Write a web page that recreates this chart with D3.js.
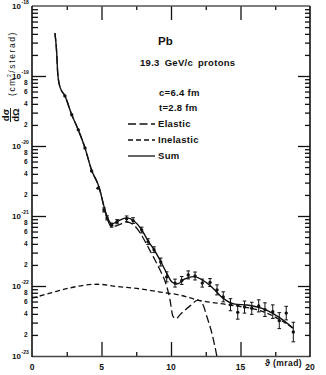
<!DOCTYPE html>
<html>
<head>
<meta charset="utf-8">
<script src="https://cdn.jsdelivr.net/npm/d3@7"></script>
<style>
body { margin: 0; background: #fff; }
svg text { font-family: 'Liberation Sans', 'DejaVu Sans', sans-serif; fill: #111; }
</style>
</head>
<body>
<svg id="chart" width="326" height="375"></svg>
<script>
// Pb, 19.3 GeV/c protons - differential cross section vs angle
var sumTheta = [1.65, 1.78, 1.85, 2.01, 2.37, 2.86, 3.33, 3.81, 4.29, 4.82, 5.25, 5.47, 5.76, 6.19, 6.83, 7.34, 7.91, 8.35, 8.78, 9.28, 9.71, 10.07, 10.43, 11.0, 11.65, 12.45, 13.02, 13.74, 14.6, 15.47, 16.91, 17.84, 18.78];
var sumSigma = [4.1e-19, 2.1e-19, 1.1e-19, 7.0e-20, 5.2e-20, 2.8e-20, 1.7e-20, 9.4e-21, 4.5e-21, 2.6e-21, 1.22e-21, 9.1e-22, 7.7e-22, 8.5e-22, 9.4e-22, 8.5e-22, 6.3e-22, 4.4e-22, 3.3e-22, 2.2e-22, 1.5e-22, 1.14e-22, 1.07e-22, 1.26e-22, 1.36e-22, 1.15e-22, 9.3e-23, 6.7e-23, 5.5e-23, 5.35e-23, 4.5e-23, 3.5e-23, 2.5e-23];

var elasticTheta = [1.65, 1.78, 1.85, 2.01, 2.37, 2.86, 3.33, 3.81, 4.29, 4.82, 5.25, 5.47, 5.76, 6.19, 6.83, 7.34, 7.91, 8.35, 8.78, 9.28, 9.64, 9.93, 10.14, 10.36, 10.65, 11.37, 11.94, 12.3, 12.59, 12.88, 13.09, 13.31];
var elasticSigma = [4.1e-19, 2.1e-19, 1.1e-19, 7.0e-20, 5.2e-20, 2.8e-20, 1.7e-20, 9.4e-21, 4.5e-21, 2.6e-21, 1.18e-21, 8.5e-22, 7.0e-22, 7.4e-22, 8.2e-22, 7.4e-22, 5.2e-22, 3.6e-22, 2.5e-22, 1.58e-22, 1.07e-22, 6.3e-23, 3.7e-23, 3.4e-23, 3.9e-23, 5.2e-23, 6.3e-23, 5.4e-23, 3.6e-23, 2.35e-23, 1.58e-23, 9.7e-24];

var inelasticTheta = [0, 1.29, 2.73, 4.68, 6.19, 7.77, 9.21, 10.65, 11.94, 14.24, 16.62, 17.84, 18.78];
var inelasticSigma = [6.7e-23, 7.9e-23, 9.4e-23, 1.06e-22, 9.8e-23, 9.1e-23, 8.2e-23, 7.4e-23, 6.3e-23, 5.35e-23, 4.3e-23, 3.3e-23, 2.5e-23];

// measured points, err = relative error
var dataTheta = [2.37, 2.86, 3.33, 3.81, 4.29, 4.75, 5.18, 5.40, 5.73, 6.12, 6.81, 7.27, 7.89, 8.35, 8.78, 9.26, 9.69, 10.29, 10.77, 11.24, 11.73, 12.25, 12.81, 13.31, 13.76, 14.28, 14.8, 15.29, 15.81, 16.31, 16.76, 17.32, 17.79, 18.29, 18.8];
var dataSigma = [5.2e-20, 2.8e-20, 1.7e-20, 9.4e-21, 4.4e-21, 2.5e-21, 1.22e-21, 9.4e-22, 7.4e-22, 8.3e-22, 9.1e-22, 8.6e-22, 6.3e-22, 4.3e-22, 3.3e-22, 2.2e-22, 1.35e-22, 1.1e-22, 1.2e-22, 1.44e-22, 1.39e-22, 1.1e-22, 1.12e-22, 8.8e-23, 7.0e-23, 5.4e-23, 4.2e-23, 5.0e-23, 4.8e-23, 5.2e-23, 4.6e-23, 4.3e-23, 3.2e-23, 4.1e-23, 2.2e-23];
var dataErr = [0, 0, 0, 0, 0, 0, 0.07, 0.07, 0.07, 0.07, 0.1, 0.1, 0.1, 0.1, 0.1, 0.14, 0.18, 0.14, 0.14, 0.14, 0.14, 0.14, 0.14, 0.18, 0.18, 0.22, 0.25, 0.22, 0.22, 0.22, 0.25, 0.25, 0.3, 0.25, 0.38];

var decades = [1e-18, 1e-19, 1e-20, 1e-21, 1e-22, 1e-23];
var decadeExp = ['-18', '-19', '-20', '-21', '-22', '-23'];
var minorMult = [2, 3, 4, 5, 6, 7, 8, 9];
var minorLabels = [2, 4, 6, 8];
var xMajor = [5, 10, 15];
var xMinor = [2.5, 7.5, 12.5, 17.5];
var xLabels = [0, 5, 10, 15, 20];

var svg = d3.select('#chart');
svg.append('rect').attr('width', 326).attr('height', 375).attr('fill', '#fff');

var x = d3.scaleLinear().domain([0, 20]).range([32, 310]);
var y = d3.scaleLog().domain([1e-23, 1e-18]).range([356, 6]);

var minors = [];
decades.slice(0, 5).forEach(function (d) {
	minorMult.forEach(function (m) { minors.push(d / 10 * m); });
});

// axes, ticks inside the frame
function noDomain(g) { g.select('.domain').remove(); g.selectAll('text').remove(); g.selectAll('line').attr('stroke', '#111').attr('stroke-width', 1.3); }

svg.append('g').attr('transform', 'translate(32,0)')
	.call(d3.axisLeft(y).tickValues(decades.slice(1, 5)).tickSize(-14)).call(noDomain);
svg.append('g').attr('transform', 'translate(32,0)')
	.call(d3.axisLeft(y).tickValues(minors).tickSize(-6)).call(noDomain);
svg.append('g').attr('transform', 'translate(310,0)')
	.call(d3.axisRight(y).tickValues(decades.slice(1, 5)).tickSize(-12)).call(noDomain);
svg.append('g').attr('transform', 'translate(310,0)')
	.call(d3.axisRight(y).tickValues(minors).tickSize(-5)).call(noDomain);
svg.append('g').attr('transform', 'translate(0,356)')
	.call(d3.axisBottom(x).tickValues(xMajor).tickSize(-14)).call(noDomain);
svg.append('g').attr('transform', 'translate(0,356)')
	.call(d3.axisBottom(x).tickValues(xMinor).tickSize(-4)).call(noDomain);
svg.append('g').attr('transform', 'translate(0,6)')
	.call(d3.axisTop(x).tickValues(xMajor).tickSize(-14)).call(noDomain);
svg.append('g').attr('transform', 'translate(0,6)')
	.call(d3.axisTop(x).tickValues(xMinor).tickSize(-4)).call(noDomain);

// frame
svg.append('line').attr('x1', 32).attr('x2', 310).attr('y1', 6).attr('y2', 6).attr('stroke', '#555').attr('stroke-width', 1.5);
svg.append('line').attr('x1', 32).attr('x2', 310).attr('y1', 356.5).attr('y2', 356.5).attr('stroke', '#444').attr('stroke-width', 1.5);
svg.append('line').attr('x1', 32).attr('x2', 32).attr('y1', 6).attr('y2', 357).attr('stroke', '#111').attr('stroke-width', 1.6);
svg.append('line').attr('x1', 310).attr('x2', 310).attr('y1', 6).attr('y2', 357).attr('stroke', '#111').attr('stroke-width', 1.6);

// y labels
decades.forEach(function (d, i) {
	svg.append('text').attr('x', 21).attr('y', y(d) + 3)
		.attr('text-anchor', 'end').style('font-size', '8px').style('font-weight', 'bold').text('10');
	svg.append('text').attr('x', 21.5).attr('y', y(d) - 2)
		.style('font-size', '5px').style('font-weight', 'bold').text(decadeExp[i]);
});
decades.slice(2).forEach(function (d) {
	minorLabels.forEach(function (m) {
		svg.append('text').attr('x', 27.5).attr('y', y(d * m) + 2.2)
			.attr('text-anchor', 'end').style('font-size', '6.5px').style('font-weight', 'bold').text(m);
	});
});

// x labels
xLabels.forEach(function (v) {
	svg.append('text').attr('x', x(v)).attr('y', 370)
		.attr('text-anchor', 'middle').style('font-size', '8.5px').style('font-weight', 'bold').text(v);
});
svg.append('text').attr('x', 265).attr('y', 366)
	.style('font-size', '8.5px').style('font-weight', 'bold').style('letter-spacing', '0.4px').text('ϑ (mrad)');

// y title
var yt = svg.append('g').attr('transform', 'translate(10,115) rotate(-90)');
yt.append('text').attr('x', 0).attr('y', -1.5).attr('text-anchor', 'middle')
	.style('font-size', '9.5px').style('font-weight', 'bold').text('dσ');
yt.append('line').attr('x1', -7).attr('x2', 7).attr('y1', 0.5).attr('y2', 0.5).attr('stroke', '#111').attr('stroke-width', 0.9);
yt.append('text').attr('x', 0).attr('y', 8.5).attr('text-anchor', 'middle')
	.style('font-size', '9.5px').style('font-weight', 'bold').text('dΩ');
var unit = yt.append('text').attr('x', 19).attr('y', 4.5)
	.style('font-size', '8.5px').style('letter-spacing', '1.6px');
unit.append('tspan').text('(cm');
unit.append('tspan').attr('dy', -3.5).style('font-size', '5px').text('2');
unit.append('tspan').attr('dy', 3.5).text('/sterad)');

// curves
svg.append('clipPath').attr('id', 'plot').append('rect')
	.attr('x', 32).attr('y', 6).attr('width', 278).attr('height', 350);
var plot = svg.append('g').attr('clip-path', 'url(#plot)');

function line(tt, ss) {
	return d3.line().x(function (d) { return x(tt[d]); }).y(function (d) { return y(ss[d]); })
		.curve(d3.curveMonotoneX)(d3.range(tt.length));
}
plot.append('path').attr('d', line(inelasticTheta, inelasticSigma))
	.attr('fill', 'none').attr('stroke', '#111').attr('stroke-width', 1.3).attr('stroke-dasharray', '5,3');
plot.append('path').attr('d', line(elasticTheta, elasticSigma))
	.attr('fill', 'none').attr('stroke', '#111').attr('stroke-width', 1.3).attr('stroke-dasharray', '8,3.5');
plot.append('path').attr('d', line(sumTheta, sumSigma))
	.attr('fill', 'none').attr('stroke', '#111').attr('stroke-width', 1.4);

// data points with error bars
var pts = plot.selectAll('g.pt').data(d3.range(dataTheta.length)).enter().append('g');
pts.filter(function (i) { return dataErr[i] > 0; }).each(function (i) {
	var g = d3.select(this), cx = x(dataTheta[i]);
	var lo = y(dataSigma[i] / (1 + dataErr[i])), hi = y(dataSigma[i] * (1 + dataErr[i]));
	g.append('line').attr('x1', cx).attr('x2', cx).attr('y1', lo).attr('y2', hi).attr('stroke', '#111').attr('stroke-width', 1);
	g.append('line').attr('x1', cx - 1.8).attr('x2', cx + 1.8).attr('y1', lo).attr('y2', lo).attr('stroke', '#111').attr('stroke-width', 1);
	g.append('line').attr('x1', cx - 1.8).attr('x2', cx + 1.8).attr('y1', hi).attr('y2', hi).attr('stroke', '#111').attr('stroke-width', 1);
});
pts.append('circle').attr('cx', function (i) { return x(dataTheta[i]); }).attr('cy', function (i) { return y(dataSigma[i]); })
	.attr('r', 1.7).attr('fill', '#111');

// annotations
var textStyle = function (sel) { return sel.style('font-size', '9.5px').style('font-weight', 'bold').style('letter-spacing', '0.3px'); };
svg.append('text').attr('x', 158).attr('y', 45).style('font-size', '11.5px').style('font-weight', 'bold').text('Pb');
svg.append('text').attr('x', 140).attr('y', 66).call(textStyle).text('19.3 GeV/c  protons').style('word-spacing', '2px');
svg.append('text').attr('x', 159).attr('y', 96).call(textStyle).text('c=6.4 fm');
svg.append('text').attr('x', 159).attr('y', 111).call(textStyle).text('t=2.8 fm');

var legendNames = ['Elastic', 'Inelastic', 'Sum'];
var legendDash = ['8,3.5', '5,3', null];
var legendY = [127, 143, 159];
legendNames.forEach(function (n, i) {
	svg.append('line').attr('x1', 128).attr('x2', 155).attr('y1', legendY[i] - 3).attr('y2', legendY[i] - 3)
		.attr('stroke', '#111').attr('stroke-width', 1.3).attr('stroke-dasharray', legendDash[i]);
	svg.append('text').attr('x', 158).attr('y', legendY[i]).call(textStyle).text(n);
});
</script>
</body>
</html>
